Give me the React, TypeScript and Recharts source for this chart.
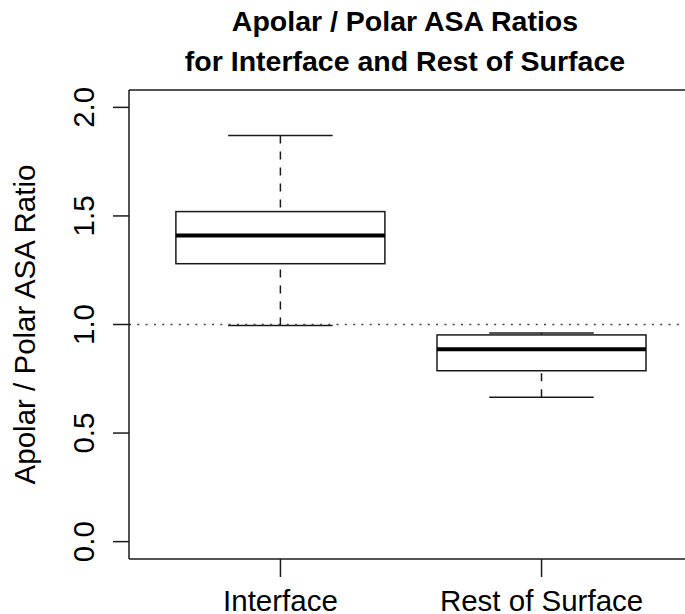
import React from 'react';
import { ComposedChart, Bar, XAxis, YAxis, ReferenceLine } from 'recharts';

// Five-number summaries of the two groups
const categories = ['Interface', 'Rest of Surface'];
const positions = [1, 2];
const whiskerLow = [0.995, 0.665];
const quartileLow = [1.28, 0.787];
const medians = [1.41, 0.886];
const quartileHigh = [1.52, 0.952];
const whiskerHigh = [1.87, 0.961];

const yTicks = [0, 0.5, 1, 1.5, 2];
const referenceLevel = 1;
const xDomain = [0.42, 2.58];
const yDomain = [-0.08, 2.08];

const data = categories.map((name, i) => ({
  name,
  pos: positions[i],
  range: [whiskerLow[i], whiskerHigh[i]],
  lo: whiskerLow[i],
  q1: quartileLow[i],
  med: medians[i],
  q3: quartileHigh[i],
  hi: whiskerHigh[i],
}));

const FONT = '"Liberation Sans", Arial, Helvetica, sans-serif';
const INK = '#1a1a1a';
const frameLine = { stroke: INK, strokeWidth: 1.5 };

// The bar spans min..max; the other quantiles are placed along that span.
const BoxShape = (props: any) => {
  const { x, y, width, height, payload } = props;
  const { lo, q1, med, q3, hi } = payload;
  const py = (v: number) => y + ((hi - v) / (hi - lo)) * height;
  const cx = x + width / 2;
  const cap = width / 4;
  return (
    <g fill="none" stroke={INK} strokeWidth={1.5}>
      <line x1={cx} y1={py(hi)} x2={cx} y2={py(q3)} strokeDasharray="8 8" />
      <line x1={cx} y1={py(lo)} x2={cx} y2={py(q1)} strokeDasharray="8 8" />
      <line x1={cx - cap} y1={py(hi)} x2={cx + cap} y2={py(hi)} />
      <line x1={cx - cap} y1={py(lo)} x2={cx + cap} y2={py(lo)} />
      <rect x={x} y={py(q3)} width={width} height={py(q1) - py(q3)} fill="#fff" />
      <line x1={x} y1={py(med)} x2={x + width} y2={py(med)} stroke="#000" strokeWidth={4} />
    </g>
  );
};

const YTick = ({ y, payload }: any) => (
  <text
    transform={`translate(94, ${y}) rotate(-90)`}
    textAnchor="middle"
    fontFamily={FONT}
    fontSize={29.5}
    fill="#000"
  >
    {payload.value.toFixed(1)}
  </text>
);

const XTick = ({ x, payload }: any) => (
  <text x={x} y={611} textAnchor="middle" fontFamily={FONT} fontSize={29.5} fill="#000">
    {categories[positions.indexOf(payload.value)]}
  </text>
);

export default function App() {
  return (
    <div style={{ position: 'relative', width: 685, height: 614, overflow: 'hidden' }}>
      <style>{'body { margin: 0; }'}</style>
      {/* the plot region runs past the right edge, so the right margin is negative */}
      <ComposedChart
        width={685}
        height={614}
        data={data}
        margin={{ top: 90, right: -8, bottom: 0, left: 69 }}
      >
        <XAxis
          dataKey="pos"
          type="number"
          domain={xDomain}
          ticks={positions}
          height={55}
          axisLine={frameLine}
          tickSize={18}
          tickLine={frameLine}
          tick={<XTick />}
        />
        <YAxis
          type="number"
          domain={yDomain}
          ticks={yTicks}
          width={60}
          axisLine={frameLine}
          tickSize={16}
          tickLine={frameLine}
          tick={<YTick />}
        />
        {/* top edge of the frame */}
        <ReferenceLine y={yDomain[1]} ifOverflow="visible" stroke={INK} strokeWidth={1.5} />
        <ReferenceLine
          y={referenceLevel}
          stroke="#444"
          strokeWidth={1.5}
          strokeDasharray="2 6.3"
        />
        <Bar dataKey="range" barSize={209} shape={<BoxShape />} isAnimationActive={false} />
      </ComposedChart>
      <svg
        width={685}
        height={614}
        style={{ position: 'absolute', left: 0, top: 0, pointerEvents: 'none' }}
      >
        <g fontFamily={FONT} fill="#000" textAnchor="middle">
          <text x={405} y={31} fontSize={28.5} fontWeight="bold">
            Apolar / Polar ASA Ratios
          </text>
          <text x={405} y={71} fontSize={28.5} fontWeight="bold">
            for Interface and Rest of Surface
          </text>
          <text transform="translate(35, 324.5) rotate(-90)" fontSize={29.5}>
            Apolar / Polar ASA Ratio
          </text>
        </g>
      </svg>
    </div>
  );
}
